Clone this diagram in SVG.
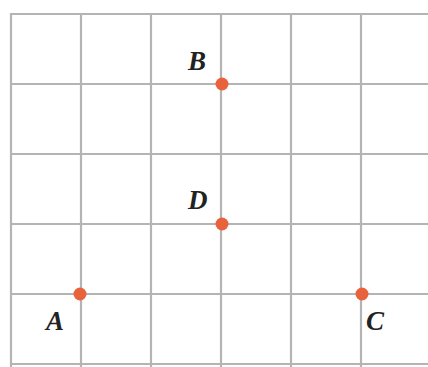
<svg xmlns="http://www.w3.org/2000/svg" width="428" height="367" viewBox="0 0 428 367">
<style>
.g{stroke:#b4b4b4;stroke-width:2.2;fill:none}
.pt{fill:#e8623c}
.lbl{font-family:"Liberation Serif","DejaVu Serif",serif;font-style:italic;font-weight:bold;font-size:27px;fill:#222}
</style>
<rect width="428" height="367" fill="#ffffff"/>
<g id="grid" class="g">
<line x1="11" y1="13" x2="11" y2="367"/>
<line x1="81" y1="13" x2="81" y2="367"/>
<line x1="151" y1="13" x2="151" y2="367"/>
<line x1="221" y1="13" x2="221" y2="367"/>
<line x1="291" y1="13" x2="291" y2="367"/>
<line x1="361" y1="13" x2="361" y2="367"/>
<line x1="10" y1="14" x2="428" y2="14"/>
<line x1="10" y1="84" x2="428" y2="84"/>
<line x1="10" y1="154" x2="428" y2="154"/>
<line x1="10" y1="224" x2="428" y2="224"/>
<line x1="10" y1="294" x2="428" y2="294"/>
<line x1="10" y1="364" x2="428" y2="364"/>
</g>
<g id="A"><circle class="pt" cx="80" cy="294" r="6.5"/><text class="lbl" x="46" y="330">A</text></g>
<g id="B"><circle class="pt" cx="222" cy="84" r="6.5"/><text class="lbl" x="188" y="70">B</text></g>
<g id="C"><circle class="pt" cx="362" cy="294" r="6.5"/><text class="lbl" x="366" y="330">C</text></g>
<g id="D"><circle class="pt" cx="222" cy="224" r="6.5"/><text class="lbl" x="188" y="209">D</text></g>
<g id="connectors"></g>
</svg>
